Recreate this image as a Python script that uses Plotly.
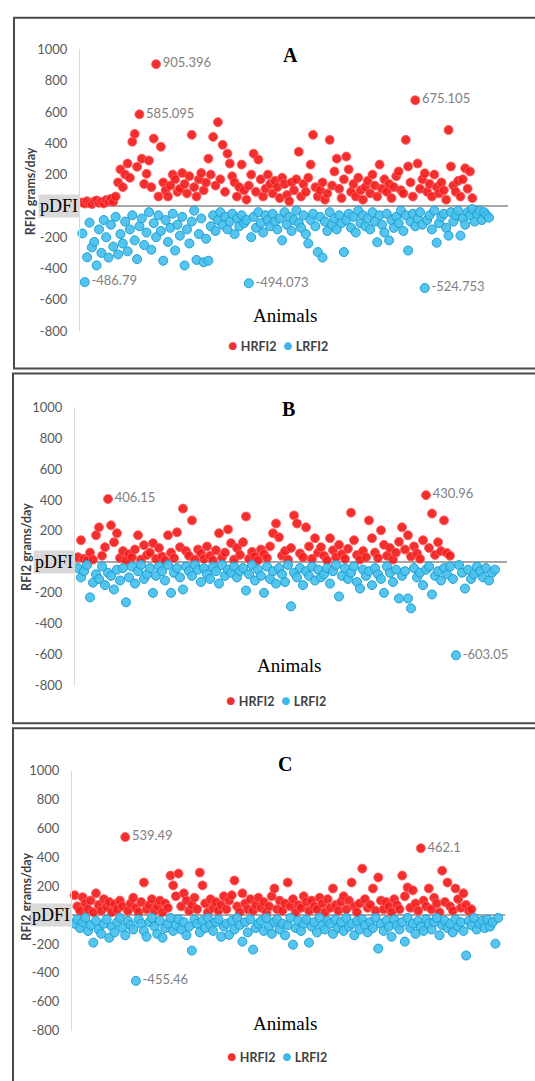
import plotly.graph_objects as go

# ---------------- DATA ----------------
series_names = ["HRFI2", "LRFI2"]
panel_titles = ["A", "B", "C"]
y_ticks = [-800, -600, -400, -200, 200, 400, 600, 800, 1000]
y_ticktext = ["-800", "-600", "-400", "-200", "200", "400", "600", "800", "1000"]

red_A = [22, 15, 30, 18, 12, 28, 35, 20, 25, 16,
         38, 30, 45, 26, 60, 150, 233, 120, 200, 271,
         180, 410, 460, 250, 585.095, 302, 140, 205, 290, 120,
         430, 905.396, 60, 378, 150, 100, 60, 130, 200, 170,
         90, 110, 210, 140, 80, 190, 454, 120, 60, 170,
         210, 100, 150, 302, 200, 441, 130, 535, 170, 390,
         90, 334, 271, 189, 150, 60, 120, 264, 100, 40,
         130, 200, 334, 90, 296, 170, 60, 110, 200, 140,
         80, 160, 120, 50, 180, 140, 70, 30, 150, 100,
         170, 346, 60, 140, 90, 180, 264, 454, 120, 60,
         100, 150, 40, 80, 422, 130, 220, 302, 110, 50,
         170, 315, 233, 90, 140, 60, 180, 100, 40, 120,
         160, 80, 200, 130, 60, 264, 110, 170, 90, 140,
         50, 120, 190, 220, 100, 80, 422, 252, 150, 60,
         675.105, 271, 110, 170, 208, 90, 140, 60, 200, 120,
         80, 150, 100, 40, 485, 252, 130, 90, 160, 60,
         170, 240, 110, 220, 50]
blue_A = [-176, -486.79, -328, -107, -265, -230, -380, -150, -300, -90,
          -200, -330, -120, -260, -70, -310, -180, -240, -100, -290,
          -150, -60, -220, -340, -130, -80, -250, -170, -40, -280,
          -110, -200, -60, -160, -350, -90, -230, -140, -50, -285,
          -120, -190, -70, -380, -150, -240, -100, -30, -345, -180,
          -80, -360, -210, -350, -130, -60, -160, -90, -40, -120,
          -70, -150, -100, -50, -180, -80, -130, -60, -110, -90,
          -494.073, -200, -70, -140, -40, -110, -170, -60, -90, -130,
          -50, -100, -150, -80, -220, -40, -120, -70, -160, -90,
          -30, -110, -140, -60, -180, -240, -90, -50, -130, -295,
          -70, -330, -100, -160, -40, -120, -80, -150, -60, -110,
          -295, -90, -50, -140, -70, -170, -30, -110, -60, -130,
          -80, -150, -40, -100, -232, -60, -120, -170, -50, -220,
          -90, -140, -70, -110, -30, -160, -60, -285, -100, -50,
          -130, -80, -40, -120, -524.753, -90, -60, -150, -30, -235,
          -110, -70, -50, -140, -190, -40, -100, -60, -30, -190,
          -80, -120, -40, -60, -20, -100, -50, -30, -90, -40, -60, -75]
labels_A = [905.396, 585.095, 675.105, -486.79, -494.073, -524.753]

red_B = [30, 140, 20, 10, 60, 15, 172, 223, 40, 95,
         406.15, 236, 127, 185, 25, 70, 10, 50, 30, 80,
         172, 15, 108, 45, 60, 121, 20, 90, 35, 10,
         172, 60, 25, 191, 95, 344, 70, 40, 268, 15,
         80, 55, 20, 100, 40, 10, 75, 185, 30, 60,
         210, 121, 15, 90, 45, 127, 293, 20, 65, 35,
         10, 80, 50, 25, 100, 185, 248, 159, 40, 70,
         15, 90, 300, 248, 55, 30, 223, 100, 20, 153,
         60, 95, 40, 10, 153, 75, 30, 110, 50, 20,
         85, 318, 140, 45, 15, 70, 30, 268, 153, 60,
         25, 204, 110, 40, 90, 15, 60, 130, 223, 80,
         172, 35, 100, 55, 20, 140, 430.96, 90, 312, 45,
         127, 70, 268, 57, 40]
blue_B = [-40, -100, -60, -20, -229, -134, -80, -110, -30, -150,
          -70, -90, -178, -50, -120, -40, -261, -100, -30, -140,
          -60, -20, -110, -80, -40, -200, -90, -30, -60, -120,
          -20, -200, -70, -40, -100, -178, -30, -60, -90, -20,
          -50, -130, -40, -80, -110, -30, -60, -140, -20, -90,
          -50, -70, -30, -100, -60, -40, -185, -80, -20, -120,
          -50, -90, -200, -30, -110, -60, -140, -40, -80, -130,
          -20, -287, -70, -100, -40, -150, -60, -90, -30, -120,
          -50, -100, -80, -40, -140, -60, -20, -223, -90, -40,
          -110, -70, -30, -130, -172, -50, -90, -60, -150, -40,
          -80, -110, -200, -30, -70, -130, -50, -236, -90, -60,
          -236, -300, -40, -100, -70, -150, -50, -30, -210, -90,
          -60, -120, -40, -80, -30, -110, -603.05, -20, -70, -172,
          -50, -110, -80, -30, -60, -100, -40, -120, -70, -50]
labels_B = [406.15, 430.96, -603.05]

red_C = [137, 60, 30, 123, 80, 40, 100, 20, 150, 70,
         30, 110, 55, 90, 20, 75, 40, 100, 60, 539.49,
         30, 80, 120, 50, 20, 90, 225, 40, 70, 110,
         30, 60, 100, 20, 80, 50, 273, 205, 130, 287,
         60, 150, 100, 30, 70, 120, 40, 294, 205, 80,
         20, 110, 50, 90, 30, 70, 130, 40, 100, 137,
         239, 60, 20, 150, 80, 40, 110, 30, 70, 120,
         50, 90, 20, 60, 130, 184, 40, 100, 30, 80,
         225, 60, 110, 20, 70, 50, 130, 90, 30, 100,
         60, 40, 120, 80, 20, 110, 50, 184, 70, 30,
         90, 130, 40, 100, 225, 60, 20, 80, 321, 110,
         50, 70, 184, 30, 260, 100, 40, 90, 60, 20,
         110, 70, 40, 273, 130, 191, 50, 171, 80, 30,
         462.1, 100, 60, 184, 40, 120, 80, 20, 307, 90,
         225, 60, 30, 184, 110, 50, 150, 70, 30, 40]
blue_C = [-60, -30, -90, -50, -20, -110, -70, -191, -40, -100,
          -130, -60, -30, -157, -80, -120, -50, -20, -90, -140,
          -40, -70, -100, -455.46, -30, -60, -110, -150, -50, -20,
          -80, -130, -40, -157, -90, -60, -20, -110, -70, -30,
          -100, -50, -140, -80, -246, -30, -60, -120, -40, -90,
          -20, -70, -110, -50, -30, -150, -80, -60, -137, -40,
          -100, -20, -70, -184, -50, -120, -30, -239, -90, -60,
          -40, -110, -20, -80, -130, -50, -30, -100, -60, -140,
          -70, -20, -205, -90, -40, -110, -60, -30, -191, -80,
          -50, -120, -20, -70, -100, -40, -60, -130, -30, -90,
          -50, -110, -20, -80, -60, -140, -40, -100, -30, -70,
          -120, -50, -90, -20, -232, -60, -110, -40, -80, -150,
          -30, -70, -100, -50, -184, -20, -90, -60, -130, -40,
          -80, -110, -30, -60, -100, -50, -20, -140, -70, -40,
          -90, -60, -120, -30, -80, -50, -110, -280, -40, -70,
          -20, -100, -60, -40, -90, -30, -80, -50, -198, -20]
labels_C = [539.49, 462.1, -455.46]

# ---------------- STYLE / LAYOUT ----------------
W, H = 535, 1081


def px(x):
    return x / W


def py(y):
    return 1 - y / H


RED = "rgba(242,28,28,0.92)"
RED_LINE = "rgba(255,95,95,0.9)"
BLUE = "rgba(72,192,236,0.92)"
BLUE_LINE = "rgba(30,160,215,1)"
LABEL_FONT = dict(family="Lato", size=13, color="#808080")

panels = [
    dict(red=red_A, blue=blue_A, labels=labels_A, xmax=180, xd=(80, 508), yd=(42, 328),
         title=(290, 48), anim=(285, 312), leg=(278, 342), ytitle=(30, 186), box=(14, 10, 366)),
    dict(red=red_B, blue=blue_B, labels=labels_B, xmax=144, xd=(75, 507), yd=(405, 688),
         title=(288, 407), anim=(289, 667), leg=(276, 702), ytitle=(27, 547), box=(13, 371, 726)),
    dict(red=red_C, blue=blue_C, labels=labels_C, xmax=162.6, xd=(72, 505), yd=(774, 1038),
         title=(285, 767), anim=(285, 1031), leg=(277, 1063), ytitle=(27, 902), box=(13, 731, 1095)),
]

fig = go.Figure()
annotations = []
shapes = []
layout_axes = {}

for k, p in enumerate(panels):
    s = "" if k == 0 else str(k + 1)
    for vals, name, col, lcol in ((p["red"], series_names[0], RED, RED_LINE),
                                  (p["blue"], series_names[1], BLUE, BLUE_LINE)):
        fig.add_trace(go.Scatter(
            x=list(range(1, len(vals) + 1)), y=vals, name=name,
            mode="markers+text",
            text=[str(v) if v in p["labels"] else "" for v in vals],
            textposition="middle right", textfont=LABEL_FONT,
            marker=dict(size=9, color=col, line=dict(color=lcol, width=1)),
            cliponaxis=False, showlegend=False,
            xaxis="x" + s, yaxis="y" + s, hoverinfo="x+y+name"))

    layout_axes["xaxis" + s] = dict(domain=[px(p["xd"][0]), px(p["xd"][1])], range=[0, p["xmax"]],
                                    visible=False, anchor="y" + s, fixedrange=True)
    layout_axes["yaxis" + s] = dict(domain=[py(p["yd"][1]), py(p["yd"][0])], range=[-800, 1000],
                                    tickvals=y_ticks, ticktext=y_ticktext, ticks="",
                                    ticklabelstandoff=9, showgrid=False,
                                    zeroline=True, zerolinecolor="#a6a6a6", zerolinewidth=1.6,
                                    showline=True, linecolor="#d9d9d9", linewidth=1.2,
                                    tickfont=dict(family="Lato", size=13, color="#595959"),
                                    anchor="x" + s, fixedrange=True)

    # border box
    bx, by0, by1 = p["box"]
    shapes.append(dict(type="rect", xref="paper", yref="paper", x0=px(bx), x1=px(560),
                       y0=py(by1), y1=py(by0), line=dict(color="#4a4a4a", width=2),
                       fillcolor="rgba(0,0,0,0)"))
    # panel title
    annotations.append(dict(text="<b>%s</b>" % panel_titles[k], xref="paper", yref="paper",
                            x=px(p["title"][0]), y=py(p["title"][1]), showarrow=False,
                            xanchor="center", yanchor="middle",
                            font=dict(family="Liberation Serif", size=20, color="#000000")))
    # x-axis title
    annotations.append(dict(text="Animals", xref="paper", yref="paper",
                            x=px(p["anim"][0]), y=py(p["anim"][1]), showarrow=False,
                            xanchor="center", yanchor="middle",
                            font=dict(family="Liberation Serif", size=19, color="#000000")))
    # y-axis title
    annotations.append(dict(text="<b>RFI2 grams/day</b>", xref="paper", yref="paper",
                            x=px(p["ytitle"][0]), y=py(p["ytitle"][1]), showarrow=False,
                            textangle=-90, xanchor="center", yanchor="middle",
                            font=dict(family="Lato", size=12.5, color="#404040")))
    # pDFI marker label on the zero line
    annotations.append(dict(text="pDFI", xref="paper", yref="y" + s,
                            x=px(p["xd"][0]), y=0, showarrow=False,
                            xanchor="right", yanchor="middle", bgcolor="#d9d9d9", borderpad=1,
                            font=dict(family="Liberation Serif", size=18, color="#000000")))
    # legend
    annotations.append(dict(
        text=('<span style="color:%s;font-size:16px">●</span> <b>%s</b>  '
              '<span style="color:%s;font-size:16px">●</span> <b>%s</b>'
              % ("#f03030", series_names[0], "#3cb8e8", series_names[1])),
        xref="paper", yref="paper", x=px(p["leg"][0]), y=py(p["leg"][1]), showarrow=False,
        xanchor="center", yanchor="middle",
        font=dict(family="Lato", size=12.5, color="#404040")))

fig.update_layout(
    width=W, height=H, margin=dict(l=0, r=0, t=0, b=0),
    paper_bgcolor="white", plot_bgcolor="white",
    annotations=annotations, shapes=shapes, showlegend=False,
    **layout_axes)

fig.write_html("out.html",
               post_script="document.body.style.margin='0';document.body.style.overflow='hidden';",
               config={"displayModeBar": False})
